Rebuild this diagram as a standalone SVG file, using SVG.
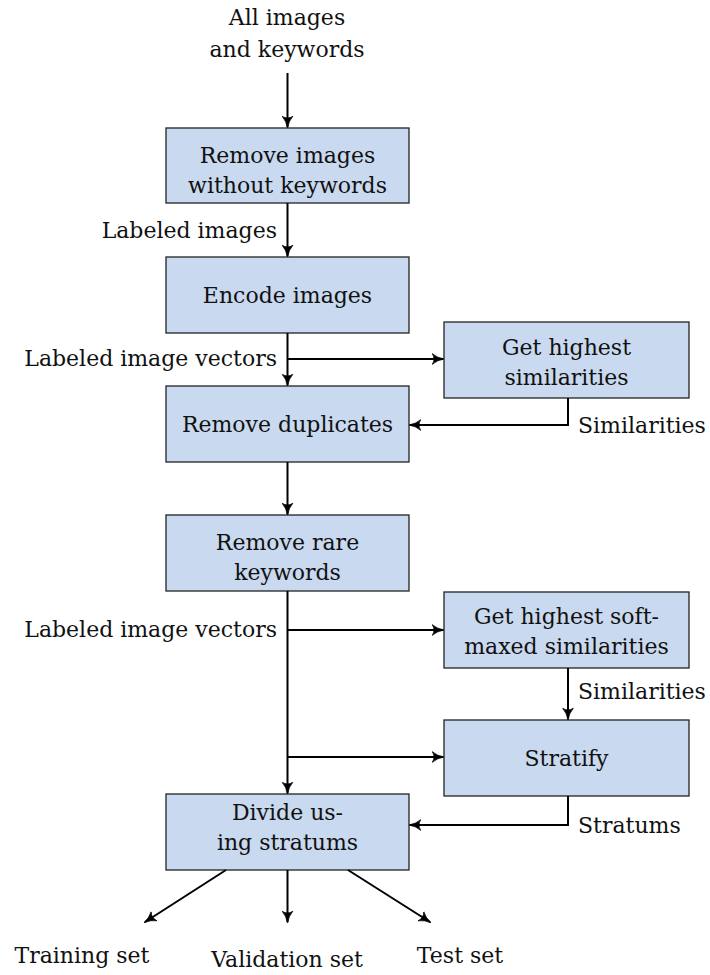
<svg xmlns="http://www.w3.org/2000/svg" width="710" height="975" viewBox="0 0 710 975">
  <style>
    text { font-family: "DejaVu Serif", "Liberation Serif", serif; font-size: 22px; fill: #111; }
    .c { text-anchor: middle; }
    .r { text-anchor: end; }
    .box { fill: #c9d9ef; stroke: #222; stroke-width: 1.3; }
    .wire { fill: none; stroke: #000; stroke-width: 2; }
  </style>
  <defs>
    <marker id="arr" viewBox="0 0 10 10" refX="9" refY="5" markerWidth="12" markerHeight="12" orient="auto" markerUnits="userSpaceOnUse">
      <path d="M0,0.5 Q4,4 10,5 Q4,6 0,9.5 Q3,5 0,0.5 Z" fill="#000" stroke="#000" stroke-width="0.6" stroke-linejoin="round"/>
    </marker>
  </defs>
  <rect width="710" height="975" fill="#fff"/>

  <!-- input label -->
  <g id="input">
    <text class="c" x="287" y="25">All images</text>
    <text class="c" x="287" y="57">and keywords</text>
  </g>

  <g id="remove-unlabeled">
    <rect class="box" x="166" y="128" width="243" height="75"/>
    <text class="c" x="287.5" y="163">Remove images</text>
    <text class="c" x="287.5" y="193">without keywords</text>
  </g>

  <g id="encode">
    <rect class="box" x="166" y="257" width="243" height="76"/>
    <text class="c" x="287.5" y="303">Encode images</text>
  </g>

  <g id="similarities">
    <rect class="box" x="444" y="322" width="245" height="76"/>
    <text class="c" x="566.5" y="355">Get highest</text>
    <text class="c" x="566.5" y="385">similarities</text>
  </g>

  <g id="dedupe">
    <rect class="box" x="166" y="386" width="243" height="76"/>
    <text class="c" x="287.5" y="432">Remove duplicates</text>
  </g>

  <g id="rare">
    <rect class="box" x="166" y="515" width="243" height="76"/>
    <text class="c" x="287.5" y="550">Remove rare</text>
    <text class="c" x="287.5" y="580">keywords</text>
  </g>

  <g id="softmax">
    <rect class="box" x="444" y="592" width="245" height="76"/>
    <text class="c" x="566.5" y="624">Get highest soft-</text>
    <text class="c" x="566.5" y="654">maxed similarities</text>
  </g>

  <g id="stratify">
    <rect class="box" x="444" y="720" width="245" height="76"/>
    <text class="c" x="566.5" y="766">Stratify</text>
  </g>

  <g id="divide">
    <rect class="box" x="166" y="794" width="243" height="76"/>
    <text class="c" x="287.5" y="820">Divide us-</text>
    <text class="c" x="287.5" y="850">ing stratums</text>
  </g>

  <g id="outputs">
    <text class="c" x="82" y="963">Training set</text>
    <text class="c" x="287" y="967">Validation set</text>
    <text class="c" x="460" y="963">Test set</text>
  </g>

  <g id="connectors">
    <line class="wire" x1="287.5" y1="73" x2="287.5" y2="127" marker-end="url(#arr)"/>
    <line class="wire" x1="287.5" y1="203" x2="287.5" y2="256" marker-end="url(#arr)"/>
    <line class="wire" x1="287.5" y1="333" x2="287.5" y2="385" marker-end="url(#arr)"/>
    <line class="wire" x1="287.5" y1="359" x2="443" y2="359" marker-end="url(#arr)"/>
    <polyline class="wire" points="568,398 568,425 410,425" marker-end="url(#arr)"/>
    <line class="wire" x1="287.5" y1="462" x2="287.5" y2="514" marker-end="url(#arr)"/>
    <line class="wire" x1="287.5" y1="591" x2="287.5" y2="793" marker-end="url(#arr)"/>
    <line class="wire" x1="287.5" y1="630" x2="443" y2="630" marker-end="url(#arr)"/>
    <line class="wire" x1="568" y1="668" x2="568" y2="719" marker-end="url(#arr)"/>
    <line class="wire" x1="287.5" y1="757" x2="443" y2="757" marker-end="url(#arr)"/>
    <polyline class="wire" points="568,796 568,825 410,825" marker-end="url(#arr)"/>
    <line class="wire" x1="226" y1="870" x2="145" y2="922" marker-end="url(#arr)"/>
    <line class="wire" x1="287.5" y1="870" x2="287.5" y2="922" marker-end="url(#arr)"/>
    <line class="wire" x1="348" y1="870" x2="430" y2="922" marker-end="url(#arr)"/>
  </g>

  <g id="edge-labels">
    <text class="r" x="277" y="238">Labeled images</text>
    <text class="r" x="277" y="366">Labeled image vectors</text>
    <text x="578" y="433">Similarities</text>
    <text class="r" x="277" y="637">Labeled image vectors</text>
    <text x="578" y="699">Similarities</text>
    <text x="578" y="833">Stratums</text>
  </g>
</svg>
